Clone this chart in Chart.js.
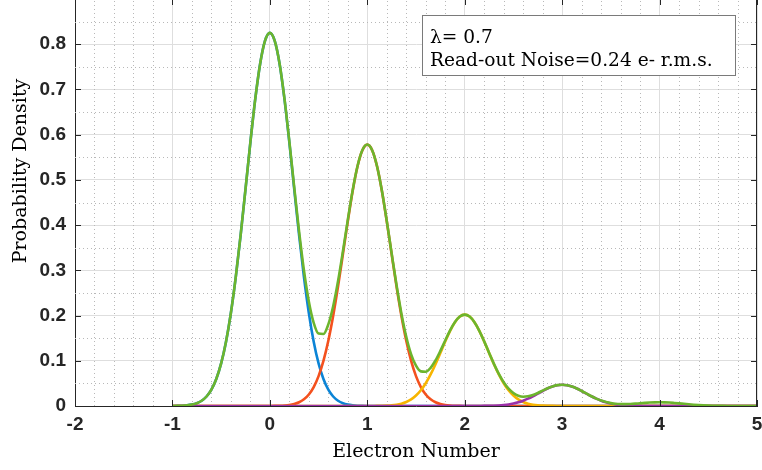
<!DOCTYPE html>
<html>
<head>
<meta charset="utf-8">
<script src="https://cdn.jsdelivr.net/npm/chart.js@4.4.1/dist/chart.umd.min.js"></script>
<style>
  html, body { margin: 0; padding: 0; background: #ffffff; overflow: hidden; }
  #wrap { position: relative; width: 762px; height: 470px; overflow: hidden; background: #fff; }
  #c { position: absolute; left: 0; top: -3px; }
</style>
</head>
<body>
<div id="wrap"><canvas id="c" width="762" height="473"></canvas></div>
<script>
// Electron number grid (x) for all curves
const xs = [
  -1,-0.95,-0.9,-0.85,-0.8,-0.75,-0.7,-0.65,-0.6,-0.55,-0.5,-0.45,-0.4,-0.35,-0.3,-0.25,-0.2,-0.15,-0.1,-0.05,
  0,0.05,0.1,0.15,0.2,0.25,0.3,0.35,0.4,0.45,0.5,0.55,0.6,0.65,0.7,0.75,0.8,0.85,0.9,0.95,
  1,1.05,1.1,1.15,1.2,1.25,1.3,1.35,1.4,1.45,1.5,1.55,1.6,1.65,1.7,1.75,1.8,1.85,1.9,1.95,
  2,2.05,2.1,2.15,2.2,2.25,2.3,2.35,2.4,2.45,2.5,2.55,2.6,2.65,2.7,2.75,2.8,2.85,2.9,2.95,
  3,3.05,3.1,3.15,3.2,3.25,3.3,3.35,3.4,3.45,3.5,3.55,3.6,3.65,3.7,3.75,3.8,3.85,3.9,3.95,
  4,4.05,4.1,4.15,4.2,4.25,4.3,4.35,4.4,4.45,4.5,4.55,4.6,4.65,4.7,4.75,4.8,4.85,4.9,4.95,
  5
];
// n = 0 component (blue)
const pdf0 = [
  0.0001,0.0003,0.0007,0.0016,0.0032,0.0062,0.0117,0.021,0.0362,0.0597,0.0942,0.1422,0.2058,0.2849,0.3777,0.4796,0.5829,0.6786,0.7564,0.8073,
  0.8251,0.8073,0.7564,0.6786,0.5829,0.4796,0.3777,0.2849,0.2058,0.1422,0.0942,0.0597,0.0362,0.021,0.0117,0.0062,0.0032,0.0016,0.0007,0.0003,
  0.0001,0,0,0,0,0,0,0,0,0,0,0,0,0,0,0,0,0,0,0,
  0,0,0,0,0,0,0,0,0,0,0,0,0,0,0,0,0,0,0,0,
  0,0,0,0,0,0,0,0,0,0,0,0,0,0,0,0,0,0,0,0,
  0,0,0,0,0,0,0,0,0,0,0,0,0,0,0,0,0,0,0,0,
  0
];
// n = 1 component (orange)
const pdf1 = [
  0,0,0,0,0,0,0,0,0,0,0,0,0,0,0,0,0,0,0,0,
  0.0001,0.0002,0.0005,0.0011,0.0022,0.0044,0.0082,0.0147,0.0254,0.0418,0.066,0.0996,0.1442,0.1996,0.2646,0.336,0.4084,0.4755,0.53,0.5656,
  0.578,0.5656,0.53,0.4755,0.4084,0.336,0.2646,0.1996,0.1442,0.0996,0.066,0.0418,0.0254,0.0147,0.0082,0.0044,0.0022,0.0011,0.0005,0.0002,
  0.0001,0,0,0,0,0,0,0,0,0,0,0,0,0,0,0,0,0,0,0,
  0,0,0,0,0,0,0,0,0,0,0,0,0,0,0,0,0,0,0,0,
  0,0,0,0,0,0,0,0,0,0,0,0,0,0,0,0,0,0,0,0,
  0
];
// n = 2 component (yellow)
const pdf2 = [
  0,0,0,0,0,0,0,0,0,0,0,0,0,0,0,0,0,0,0,0,
  0,0,0,0,0,0,0,0,0,0,0,0,0,0,0,0,0,0,0,0,
  0,0.0001,0.0002,0.0004,0.0008,0.0015,0.0029,0.0052,0.0089,0.0146,0.0231,0.0348,0.0504,0.0698,0.0925,0.1174,0.1427,0.1662,0.1852,0.1977,
  0.202,0.1977,0.1852,0.1662,0.1427,0.1174,0.0925,0.0698,0.0504,0.0348,0.0231,0.0146,0.0089,0.0052,0.0029,0.0015,0.0008,0.0004,0.0002,0.0001,
  0,0,0,0,0,0,0,0,0,0,0,0,0,0,0,0,0,0,0,0,
  0,0,0,0,0,0,0,0,0,0,0,0,0,0,0,0,0,0,0,0,
  0
];
// n = 3 component (purple)
const pdf3 = [
  0,0,0,0,0,0,0,0,0,0,0,0,0,0,0,0,0,0,0,0,
  0,0,0,0,0,0,0,0,0,0,0,0,0,0,0,0,0,0,0,0,
  0,0,0,0,0,0,0,0,0,0,0,0,0,0,0,0,0,0,0,0,
  0,0,0,0.0001,0.0002,0.0004,0.0007,0.0012,0.0021,0.0034,0.0054,0.0081,0.0117,0.0162,0.0215,0.0273,0.0332,0.0387,0.0431,0.046,
  0.047,0.046,0.0431,0.0387,0.0332,0.0273,0.0215,0.0162,0.0117,0.0081,0.0054,0.0034,0.0021,0.0012,0.0007,0.0004,0.0002,0.0001,0,0,
  0,0,0,0,0,0,0,0,0,0,0,0,0,0,0,0,0,0,0,0,
  0
];
// total probability density (green)
const pdfTotal = [
  0.0001,0.0003,0.0007,0.0016,0.0032,0.0062,0.0117,0.021,0.0362,0.0597,0.0942,0.1422,0.2058,0.2849,0.3777,0.4796,0.5829,0.6786,0.7564,0.8073,
  0.8251,0.8075,0.7569,0.6797,0.5851,0.484,0.3859,0.2996,0.2312,0.184,0.1602,0.1593,0.1804,0.2206,0.2763,0.3422,0.4116,0.4771,0.5307,0.5659,
  0.5782,0.5657,0.5302,0.4759,0.4092,0.3375,0.2675,0.2048,0.1531,0.1142,0.0891,0.0766,0.0758,0.0845,0.1007,0.1218,0.1449,0.1673,0.1857,0.1979,
  0.2021,0.1977,0.1852,0.1663,0.1429,0.1178,0.0932,0.071,0.0525,0.0382,0.0285,0.0227,0.0206,0.0214,0.0244,0.0288,0.034,0.0391,0.0433,0.0461,
  0.047,0.046,0.0431,0.0387,0.0332,0.0274,0.0216,0.0164,0.0121,0.0087,0.0063,0.0048,0.0042,0.0041,0.0045,0.0052,0.0061,0.0069,0.0076,0.0081,
  0.0083,0.0081,0.0076,0.0068,0.0059,0.0048,0.0038,0.0029,0.0021,0.0014,0.0009,0.0006,0.0004,0.0002,0.0001,0,0,0,0,0,
  0
];
const xTickLabels = ['-2','-1','0','1','2','3','4','5'];
const yTickLabels = ['0','0.1','0.2','0.3','0.4','0.5','0.6','0.7','0.8'];
const annotationLines = ['\u03bb= 0.7', 'Read-out Noise=0.24 e- r.m.s.'];
const xTitle = 'Electron Number';
const yTitle = 'Probability Density';

const toPts = ys => xs.map((x, i) => ({ x: x, y: ys[i] }));
const isInt = v => Math.abs(v - Math.round(v)) < 1e-6;
const isTenth = v => Math.abs(v * 10 - Math.round(v * 10)) < 1e-6;

const AXIS = '#262626';
const MAJOR = '#dedede';
const MINOR = '#b8b8b8';
const TICK_FONT = { family: '"Liberation Sans", Arial, sans-serif', size: 19, weight: 'bold' };
const SERIF = '"DejaVu Serif", serif';

const extras = {
  id: 'extras',
  beforeDatasetsDraw(chart) {
    // dotted minor grid, positioned through the chart's own scales
    const { ctx, chartArea: a, scales } = chart;
    ctx.save();
    ctx.strokeStyle = MINOR; ctx.lineWidth = 1; ctx.setLineDash([1, 3]);
    ctx.beginPath();
    scales.x.ticks.forEach(t => {
      if (isInt(t.value)) return;
      const px = Math.round(scales.x.getPixelForValue(t.value)) + 0.5;
      ctx.moveTo(px, a.bottom); ctx.lineTo(px, a.top);
    });
    scales.y.ticks.forEach(t => {
      if (isTenth(t.value)) return;
      const py = Math.round(scales.y.getPixelForValue(t.value)) + 0.5;
      ctx.moveTo(a.left, py); ctx.lineTo(a.right, py);
    });
    ctx.stroke();
    ctx.restore();
  },
  afterDatasetsDraw(chart) {
    const { ctx, chartArea: a, scales } = chart;
    ctx.save();
    // box (top & right)
    ctx.strokeStyle = AXIS; ctx.lineWidth = 1;
    ctx.beginPath();
    ctx.moveTo(a.left, a.top + 0.5); ctx.lineTo(a.right, a.top + 0.5);
    ctx.moveTo(a.right - 0.5, a.top); ctx.lineTo(a.right - 0.5, a.bottom);
    ctx.stroke();
    // inward ticks
    const tl = 6;
    ctx.beginPath();
    scales.x.ticks.forEach(t => {
      if (!isInt(t.value)) return;
      const px = Math.round(scales.x.getPixelForValue(t.value)) + 0.5;
      ctx.moveTo(px, a.bottom); ctx.lineTo(px, a.bottom - tl);
      ctx.moveTo(px, a.top); ctx.lineTo(px, a.top + tl);
    });
    scales.y.ticks.forEach(t => {
      if (!isTenth(t.value)) return;
      const py = Math.round(scales.y.getPixelForValue(t.value)) + 0.5;
      ctx.moveTo(a.left, py); ctx.lineTo(a.left + tl, py);
      ctx.moveTo(a.right, py); ctx.lineTo(a.right - tl, py);
    });
    ctx.stroke();
    ctx.restore();
  },
  afterDraw(chart) {
    const { ctx } = chart;
    const off = 3; // canvas is shifted up by 3px
    ctx.save();
    // annotation box
    ctx.fillStyle = '#ffffff';
    ctx.fillRect(422, 15 + off, 313, 60);
    ctx.strokeStyle = '#7a7a7a'; ctx.lineWidth = 1;
    ctx.strokeRect(422.5, 15.5 + off, 313, 60);
    ctx.fillStyle = '#000000';
    ctx.font = '18.6px ' + SERIF;
    ctx.textAlign = 'left'; ctx.textBaseline = 'alphabetic';
    ctx.fillText(annotationLines[0], 430, 43 + off);
    ctx.fillText(annotationLines[1], 430, 66 + off);
    // y-axis title
    ctx.font = '19px ' + SERIF;
    ctx.translate(21, 171 + off);
    ctx.rotate(-Math.PI / 2);
    ctx.textAlign = 'center'; ctx.textBaseline = 'middle';
    ctx.fillText(yTitle, 0, 0);
    ctx.restore();
  }
};

const mk = (label, ys, color) => ({
  label, data: toPts(ys), borderColor: color, backgroundColor: color,
  borderWidth: 2.6, pointRadius: 0, fill: false,
  cubicInterpolationMode: 'monotone'
});

new Chart(document.getElementById('c'), {
  type: 'line',
  data: {
    datasets: [
      mk('Total', pdfTotal, '#6cb52d'),
      mk('n=3', pdf3, '#9b30a8'),
      mk('n=2', pdf2, '#f7b500'),
      mk('n=1', pdf1, '#f4511e'),
      mk('n=0', pdf0, '#0b84d6')
    ]
  },
  options: {
    responsive: false,
    animation: false,
    devicePixelRatio: 1,
    layout: { padding: { top: 2, right: 5, left: 0, bottom: 0 } },
    plugins: { legend: { display: false }, tooltip: { enabled: false } },
    scales: {
      x: {
        type: 'linear', min: -2, max: 5,
        ticks: {
          stepSize: 0.2, autoSkip: false, maxRotation: 0, padding: 7,
          color: AXIS, font: TICK_FONT,
          callback: v => isInt(v) ? xTickLabels[Math.round(v) + 2] : ''
        },
        grid: {
          drawTicks: false,
          color: c => isInt(c.tick.value) ? MAJOR : 'rgba(0,0,0,0)',
          lineWidth: 1
        },
        border: { display: true, color: AXIS, width: 1 },
        title: {
          display: true, text: xTitle, color: '#000000',
          font: { family: SERIF, size: 19 }, padding: { top: 0, bottom: 7 }
        },
        afterFit: s => { s.height = 64; s.paddingLeft = 0; s.paddingRight = 0; }
      },
      y: {
        type: 'linear', min: 0, max: 0.9,
        ticks: {
          stepSize: 0.05, autoSkip: false, padding: 9,
          color: AXIS, font: TICK_FONT,
          callback: v => (isTenth(v) && v < 0.85) ? yTickLabels[Math.round(v * 10)] : ''
        },
        grid: {
          drawTicks: false,
          color: c => isTenth(c.tick.value) ? MAJOR : 'rgba(0,0,0,0)',
          lineWidth: 1
        },
        border: { display: true, color: AXIS, width: 1 },
        afterFit: s => { s.width = 75; s.paddingTop = 0; s.paddingBottom = 0; }
      }
    }
  },
  plugins: [extras]
});
</script>
</body>
</html>
